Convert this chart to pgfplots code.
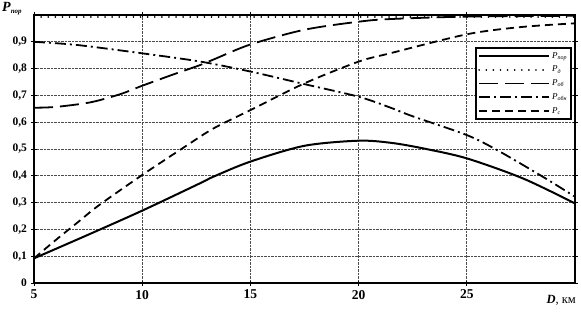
\documentclass[border=0pt]{standalone}
\usepackage{fontspec}
\setmainfont{Liberation Serif}
\usepackage{pgfplots}
\pgfplotsset{compat=1.18}
\begin{document}
\begin{tikzpicture}[x=1pt,y=1pt]
\useasboundingbox (-34pt,-28pt) rectangle (547pt,283pt);
\begin{axis}[
  scale only axis,
  width=541pt, height=268pt,
  xmin=5, xmax=30, ymin=0, ymax=1,
  xtick={5,10,15,20,25},
  ytick={0,0.1,0.2,0.3,0.4,0.5,0.6,0.7,0.8,0.9},
  /pgf/number format/assume math mode=true,
  /pgf/number format/use comma,
  yticklabel style={/pgf/number format/fixed,/pgf/number format/precision=1,font=\fontsize{11.5}{12}\selectfont\bfseries, xshift=-1pt},
  xticklabel style={font=\fontsize{13.5}{14}\selectfont\bfseries, yshift=-1pt},
  grid=major,
  major grid style={densely dotted, line width=0.8pt, black!70},
  axis line style={line width=1.1pt},
  tick style={line width=0.8pt, black},
  major tick length=5pt,
  tick align=center,
  clip=true,
  legend style={at={(0.9945,0.8806)}, anchor=north east, draw=black, line width=1.8pt,
    font=\fontsize{9}{10}\selectfont\itshape, inner xsep=2pt, inner ysep=2.5pt, row sep=2.3pt,
    cells={anchor=west}},
  legend image code/.code={\draw[#1] (0pt,0pt) -- (70pt,0pt);},
]
\addplot[line width=2pt, smooth, black] coordinates {
(5,0.092)(7.5,0.18)(10,0.27)(12.67,0.372)(13.3,0.397)(15,0.453)(17.5,0.512)(20,0.531)(21.5,0.523)(23,0.502)(25,0.465)(27.6,0.39)(30,0.297)};
\addlegendentry{P\textsubscript{пор}}
\addplot[line width=1.7pt, black, line cap=round, dash pattern=on 0.1pt off 7pt] coordinates {(5,0.992)(30,0.992)};
\addlegendentry{P\textsubscript{д}}
\addplot[line width=1.8pt, smooth, black, dash pattern=on 19pt off 7pt] coordinates {
(5,0.654)(6,0.657)(7.6,0.674)(9,0.705)(10,0.736)(11.5,0.78)(12.67,0.813)(13.3,0.834)(15,0.89)(17.5,0.945)(20,0.975)(21.5,0.985)(25,0.994)(30,0.997)};
\addlegendentry{P\textsubscript{об}}
\addplot[line width=1.8pt, smooth, black, dash pattern=on 11pt off 4pt on 2pt off 4pt] coordinates {
(5,0.90)(7,0.888)(10,0.857)(12.7,0.826)(15,0.789)(17.5,0.742)(20,0.695)(21.45,0.655)(22.5,0.622)(25,0.552)(26.4,0.496)(28.5,0.397)(30,0.322)};
\addlegendentry{P\textsubscript{обн}}
\addplot[line width=1.8pt, smooth, black, dash pattern=on 8pt off 5pt] coordinates {
(5,0.092)(6,0.16)(7,0.225)(8,0.29)(10,0.403)(12,0.51)(13.3,0.577)(15,0.645)(17.5,0.745)(20,0.826)(21.45,0.857)(25,0.928)(27.5,0.955)(30,0.969)};
\addlegendentry{P\textsubscript{с}}
\end{axis}
\node[anchor=north west, inner sep=0pt] at (-32pt,281pt) {\fontsize{14}{15}\selectfont\bfseries\itshape P\textsubscript{\fontsize{7}{8}\selectfont пор}};
\node[anchor=base east, inner sep=0pt] at (542pt,-20pt) {\fontsize{12.5}{13}\selectfont\itshape\bfseries D\upshape\mdseries, км};
\end{tikzpicture}
\end{document}
